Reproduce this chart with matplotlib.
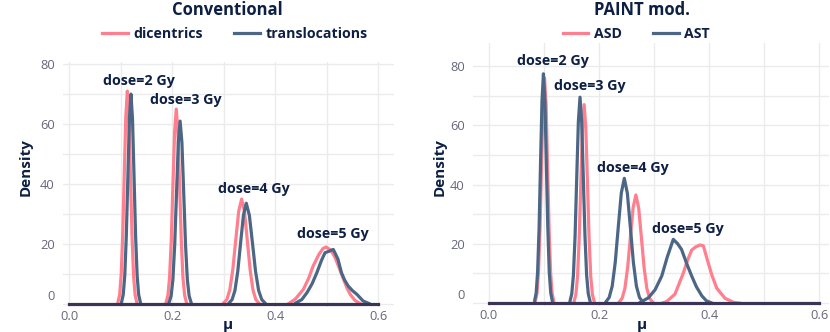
import numpy as np
import matplotlib
matplotlib.use("Agg")
import matplotlib.pyplot as plt
import matplotlib.transforms as mtransforms
from matplotlib.lines import Line2D
from matplotlib.ticker import MultipleLocator

# doses shown in both panels
doses = [2, 3, 4, 5]
mu_span = [0.0, 0.6]

# --- Conventional: dicentrics (one list per dose) ---
dic_x = [
    [0.095, 0.098, 0.101, 0.104, 0.107, 0.110, 0.113, 0.116, 0.119, 0.122, 0.125, 0.128, 0.131],
    [0.1885, 0.1918, 0.195, 0.1983, 0.2015, 0.2048, 0.208, 0.2113, 0.2145, 0.2178, 0.221, 0.2243, 0.2275],
    [0.3005, 0.3063, 0.312, 0.3178, 0.3235, 0.3293, 0.335, 0.3405, 0.346, 0.3515, 0.357, 0.3625, 0.368],
    [0.425, 0.439, 0.455, 0.465, 0.474, 0.485, 0.493, 0.499, 0.508, 0.5165, 0.525, 0.533, 0.540, 0.546, 0.555, 0.565],
]
dic_y = [
    [0.8, 3.1, 9.6, 23.1, 43.1, 62.6, 71, 62.6, 43.1, 23.1, 9.6, 3.1, 0.8],
    [0.7, 2.9, 8.8, 21.1, 39.5, 57.3, 65, 57.3, 39.5, 21.1, 8.8, 2.9, 0.7],
    [0.4, 1.5, 4.7, 11.4, 21.2, 30.9, 35, 30.9, 21.2, 11.4, 4.7, 1.5, 0.4],
    [0.0, 1.6, 4.9, 8.5, 12.7, 16.5, 18.5, 19.0, 18.0, 15.5, 11.8, 8.2, 5.2, 3.2, 1.2, 0.2],
]

# --- Conventional: translocations ---
tra_x = [
    [0.102, 0.105, 0.108, 0.111, 0.114, 0.117, 0.120, 0.123, 0.126, 0.129, 0.132, 0.135, 0.138],
    [0.1945, 0.198, 0.2015, 0.205, 0.2085, 0.212, 0.2155, 0.219, 0.2225, 0.226, 0.2295, 0.233, 0.2365],
    [0.311, 0.3165, 0.322, 0.3275, 0.333, 0.3385, 0.344, 0.350, 0.356, 0.362, 0.368, 0.374, 0.380],
    [0.440, 0.452, 0.462, 0.472, 0.481, 0.490, 0.497, 0.505, 0.513, 0.522, 0.529, 0.535, 0.542, 0.550, 0.559, 0.571, 0.582],
]
tra_y = [
    [0.8, 3.1, 9.5, 22.8, 42.5, 61.7, 70, 61.7, 42.5, 22.8, 9.5, 3.1, 0.8],
    [0.7, 2.7, 8.2, 19.8, 37.0, 53.8, 61, 53.8, 37.0, 19.8, 8.2, 2.7, 0.7],
    [0.4, 1.5, 4.5, 10.9, 20.4, 29.6, 33.6, 29.6, 20.4, 10.9, 4.5, 1.5, 0.4],
    [0.3, 1.5, 3.8, 6.8, 10.4, 14.5, 17.1, 17.6, 18.2, 15.0, 10.4, 8.0, 6.0, 4.5, 3.2, 1.0, 0.2],
]

# --- PAINT mod.: ASD ---
asd_x = [
    [0.0845, 0.0873, 0.090, 0.0928, 0.0955, 0.0983, 0.101, 0.1038, 0.1065, 0.1093, 0.112, 0.1148, 0.1175],
    [0.155, 0.158, 0.161, 0.164, 0.167, 0.170, 0.173, 0.176, 0.179, 0.182, 0.185, 0.188, 0.191],
    [0.237, 0.242, 0.247, 0.252, 0.257, 0.262, 0.267, 0.272, 0.277, 0.282, 0.287, 0.292, 0.297],
    [0.315, 0.323, 0.338, 0.353, 0.361, 0.3685, 0.376, 0.3836, 0.3897, 0.397, 0.405, 0.414, 0.429, 0.445, 0.455],
]
asd_y = [
    [0.8, 3.3, 10.3, 24.7, 46.1, 67.0, 76, 67.0, 46.1, 24.7, 10.3, 3.3, 0.8],
    [0.7, 2.9, 9.0, 21.8, 40.7, 59.1, 67, 59.1, 40.7, 21.8, 9.0, 2.9, 0.7],
    [0.4, 1.6, 4.9, 11.9, 22.2, 32.2, 36.5, 32.2, 22.2, 11.9, 4.9, 1.6, 0.4],
    [0.0, 0.5, 3.0, 10.0, 14.5, 17.9, 19.0, 19.6, 19.3, 14.5, 9.5, 5.0, 1.6, 0.2, 0.0],
]

# --- PAINT mod.: AST ---
ast_x = [
    [0.0831, 0.0858, 0.0884, 0.0911, 0.0937, 0.0964, 0.099, 0.1017, 0.1043, 0.107, 0.1096, 0.1123, 0.1149],
    [0.1475, 0.1505, 0.1535, 0.1565, 0.1595, 0.1625, 0.1655, 0.1685, 0.1715, 0.1745, 0.1775, 0.1805, 0.1835],
    [0.213, 0.2185, 0.224, 0.2295, 0.235, 0.2405, 0.246, 0.2515, 0.257, 0.2625, 0.268, 0.2735, 0.279],
    [0.275, 0.290, 0.302, 0.314, 0.324, 0.335, 0.343, 0.350, 0.359, 0.3685, 0.377, 0.387, 0.395, 0.405],
]
ast_y = [
    [0.9, 3.4, 10.4, 25.2, 47.0, 68.3, 77.4, 68.3, 47.0, 25.2, 10.4, 3.4, 0.9],
    [0.8, 3.1, 9.4, 22.6, 42.2, 61.3, 69.5, 61.3, 42.2, 22.6, 9.4, 3.1, 0.8],
    [0.5, 1.9, 5.7, 13.7, 25.6, 37.1, 42.1, 37.1, 25.6, 13.7, 5.7, 1.9, 0.5],
    [0.2, 1.8, 4.5, 9.1, 15.5, 21.5, 20.0, 18.1, 13.5, 9.1, 5.5, 2.4, 0.8, 0.0],
]

# annotation positions (mu, density) of the "dose=" labels
conv_label_x = [0.136, 0.227, 0.3586, 0.5126]
conv_label_y = [74.3, 68.0, 38.4, 23.2]
paint_label_x = [0.117, 0.1836, 0.261, 0.361]
paint_label_y = [81.8, 73.3, 45.5, 25.1]

PINK = "#FF7F8E"
BLUE = "#4C6785"
BASE = "#3C3457"
TEXT = "#0D1F44"
TICK = "#66677A"
GRID = "#EBEBEB"

plt.rcParams['font.family'] = ['Open Sans', 'DejaVu Sans']

fig = plt.figure(figsize=(8.3, 3.32), dpi=100)
W, H = 830, 332


def px_axes(l, t, r, b):
    return fig.add_axes([l / W, 1 - b / H, (r - l) / W, (b - t) / H])


def style_axes(ax, xlim, ytop):
    ax.set_xlim(*xlim)
    ax.set_ylim(-1, ytop)
    ax.xaxis.set_major_locator(MultipleLocator(0.2))
    ax.xaxis.set_minor_locator(MultipleLocator(0.1))
    ax.yaxis.set_major_locator(MultipleLocator(20))
    ax.yaxis.set_minor_locator(MultipleLocator(10))
    ax.grid(True, which='both', color=GRID, linewidth=1.0)
    ax.set_axisbelow(True)
    for s in ax.spines.values():
        s.set_visible(False)
    ax.tick_params(which='both', length=0, colors=TICK, labelsize=9.3)
    ax.xaxis.set_major_formatter(lambda v, p: f"{v:.1f}")
    ax.yaxis.set_major_formatter(lambda v, p: f"{v:.0f}")
    ax.tick_params(axis='y', pad=6)
    ax.tick_params(axis='x', pad=2)
    ax.set_ylabel("Density", fontsize=11, fontweight='bold', color=TEXT)
    ax.set_xlabel("μ", fontsize=11, fontweight='bold', color=TEXT)


ax_l = px_axes(63, 62, 393.5, 307)
ax_r = px_axes(473, 43, 829, 306)

panels = [
    (ax_l, (-0.012, 0.63), 80.7, dic_x, dic_y, tra_x, tra_y, conv_label_x, conv_label_y,
     "Conventional", ["dicentrics", "translocations"], 227, 235, -0.114, 0.571, 0.5, -0.073),
    (ax_r, (-0.029, 0.618), 87.8, asd_x, asd_y, ast_x, ast_y, paint_label_x, paint_label_y,
     "PAINT mod.", ["ASD", "AST"], 642, 636.5, -0.093, 0.528, 0.475, -0.072),
]

for (ax, xlim, ytop, px_, py_, bx_, by_, lx, ly, title, names,
     tcx, lcx, ylab_x, ylab_y, xlab_x, xlab_y) in panels:
    style_axes(ax, xlim, ytop)
    for xs, ys in zip(px_, py_):
        ax.plot(xs, ys, color=PINK, lw=2.3, solid_joinstyle='round', zorder=3)
    for xs, ys in zip(bx_, by_):
        ax.plot(xs, ys, color=BLUE, lw=2.3, solid_joinstyle='round', zorder=4)
    ax.plot(mu_span, [0, 0], color=BASE, lw=2.3, zorder=5)
    for d, x, y in zip(doses, lx, ly):
        ax.text(x, y, f"dose={d} Gy", ha='center', va='center', fontsize=10.3,
                fontweight='bold', color=TEXT, zorder=6)
    ax.yaxis.set_label_coords(ylab_x, ylab_y)
    ax.yaxis.label.set_va('center')
    ax.xaxis.set_label_coords(xlab_x, xlab_y)
    ax.xaxis.label.set_va('center')
    fig.canvas.draw()
    # the zero label sits a bit above the baseline in the original
    off = mtransforms.offset_copy(ax.get_yticklabels()[0].get_transform(), fig=fig, x=0, y=9, units='dots')
    for lab in ax.get_yticklabels():
        if lab.get_text() == "0":
            lab.set_transform(off)
    fig.text(tcx / W, 1 - 10 / H, title, ha='center', va='center', fontsize=12,
             fontweight='bold', color=TEXT)
    handles = [Line2D([], [], color=PINK, lw=2.3), Line2D([], [], color=BLUE, lw=2.3)]
    fig.legend(handles, names, loc='center', bbox_to_anchor=(lcx / W, 1 - 34 / H),
               ncol=2, frameon=False, handlelength=1.8, handletextpad=0.4,
               columnspacing=2.2, prop={'weight': 'bold', 'size': 10.2},
               labelcolor=TEXT, borderaxespad=0, borderpad=0)

fig.savefig("out.png", dpi=100)
